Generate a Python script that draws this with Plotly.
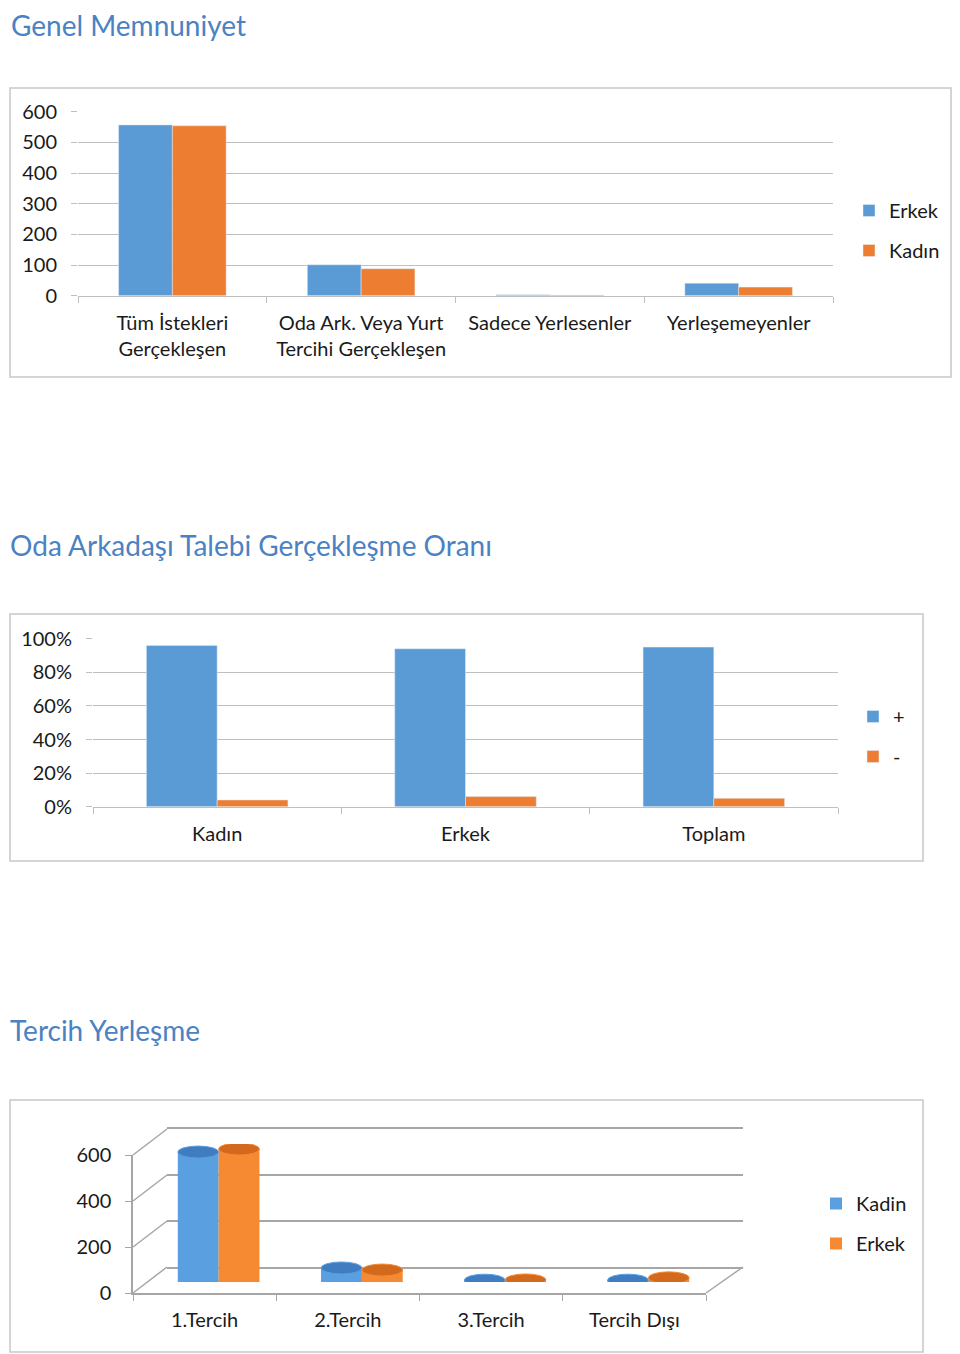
import plotly.graph_objects as go

# --- data ---
memnuniyet_cats = ["Tüm İstekleri<br>Gerçekleşen", "Oda Ark. Veya Yurt<br>Tercihi Gerçekleşen",
                   "Sadece Yerlesenler", "Yerleşemeyenler"]
memnuniyet_erkek = [557, 101, 3, 41]
memnuniyet_kadin = [554, 88, 2, 28]

oda_cats = ["Kadın", "Erkek", "Toplam"]
oda_arti = [0.96, 0.94, 0.95]
oda_eksi = [0.04, 0.06, 0.05]

tercih_cats = ["1.Tercih", "2.Tercih", "3.Tercih", "Tercih Dışı"]
tercih_kadin = [565, 61, 8, 8]
tercih_erkek = [578, 52, 9, 18]

BLUE = "#5B9BD5"
ORANGE = "#ED7D31"
GRID = "#BFBFBF"
WALL = "#A6A6A6"
FONT = "Lato"
# the page body has an 8px margin, so the canvas is shrunk and all positions shifted
OFF = 8
W, H = 960 - OFF, 1354 - OFF


def px(x):
    return (x - OFF) / W


def py(y):
    return 1 - (y - OFF) / H


def xd(a, b):
    return [px(a), px(b)]


def yd(top, bottom):
    return [py(bottom), py(top)]


fig = go.Figure()

# chart 1
fig.add_trace(go.Bar(x=memnuniyet_cats, y=memnuniyet_erkek, name="Erkek", marker_color=BLUE,
                     xaxis="x", yaxis="y", legend="legend", legendgroup="a1"))
fig.add_trace(go.Bar(x=memnuniyet_cats, y=memnuniyet_kadin, name="Kadın", marker_color=ORANGE,
                     xaxis="x", yaxis="y", legend="legend", legendgroup="a2"))

# chart 2
fig.add_trace(go.Bar(x=oda_cats, y=oda_arti, name="+", marker_color=BLUE,
                     xaxis="x2", yaxis="y2", legend="legend2", legendgroup="b1"))
fig.add_trace(go.Bar(x=oda_cats, y=oda_eksi, name="-", marker_color=ORANGE,
                     xaxis="x2", yaxis="y2", legend="legend2", legendgroup="b2"))

# chart 3: back wall (x3), front axes (x4), cylinders (x5)
fig.add_trace(go.Scatter(x=tercih_cats, y=[None] * 4, xaxis="x3", yaxis="y3",
                         showlegend=False, hoverinfo="skip"))
fig.add_trace(go.Scatter(x=tercih_cats, y=[None] * 4, xaxis="x4", yaxis="y4",
                         showlegend=False, hoverinfo="skip"))
CYL_BLUE, CYL_BLUE_TOP = "#5A9FE0", "#3F7DC0"
CYL_ORANGE, CYL_ORANGE_TOP = "#F58A33", "#D2691C"
fig.add_trace(go.Bar(x=tercih_cats, y=tercih_kadin, name="Kadin", marker_color=CYL_BLUE,
                     marker_line_width=0, xaxis="x5", yaxis="y5",
                     legend="legend3", legendgroup="c1"))
fig.add_trace(go.Bar(x=tercih_cats, y=tercih_erkek, name="Erkek", marker_color=CYL_ORANGE,
                     marker_line_width=0, xaxis="x5", yaxis="y5",
                     legend="legend3", legendgroup="c2"))

BARGAP = 0.43
tickfont = dict(family=FONT, size=20, color="#1a1a1a")
cat_range = [-0.5, 3.5]
legend_style = dict(xanchor="left", yanchor="top", tracegroupgap=11,
                    font=dict(family=FONT, size=20, color="#1a1a1a"), bgcolor="rgba(0,0,0,0)")

fig.update_layout(
    width=W, height=H, margin=dict(l=0, r=0, t=0, b=0, autoexpand=False),
    paper_bgcolor="white", plot_bgcolor="rgba(0,0,0,0)",
    font=dict(family=FONT, size=20, color="#1a1a1a"),
    barmode="group", bargap=BARGAP, bargroupgap=0,
    showlegend=True,
    # chart 1
    xaxis=dict(domain=xd(78, 833), anchor="y", showline=True, linecolor=GRID, linewidth=1,
               ticks="outside", tickson="boundaries", ticklen=6, tickcolor=GRID,
               tickfont=tickfont, showgrid=False, ticklabelstandoff=9, automargin=False),
    yaxis=dict(domain=yd(111.7, 295.7), anchor="x", range=[0, 600], dtick=100,
               showgrid=True, gridcolor=GRID, gridwidth=1, ticks="outside", ticklen=6,
               tickcolor=GRID, tickfont=tickfont, ticklabelstandoff=10, zeroline=False,
               automargin=False),
    # chart 2
    xaxis2=dict(domain=xd(93, 838), anchor="y2", showline=True, linecolor=GRID,
                ticks="outside", tickson="boundaries", ticklen=6, tickcolor=GRID,
                tickfont=tickfont, showgrid=False, ticklabelstandoff=9, automargin=False),
    yaxis2=dict(domain=yd(638.7, 806.7), anchor="x2", range=[0, 1], dtick=0.2, tickformat=".0%",
                showgrid=True, gridcolor=GRID, ticks="outside", ticklen=6, tickcolor=GRID,
                tickfont=tickfont, ticklabelstandoff=10, zeroline=False, automargin=False),
    # chart 3 back wall (axis line + mirror give the floor edge and top line)
    xaxis3=dict(domain=xd(167, 743), anchor="y3", range=cat_range, showticklabels=False,
                showgrid=False, showline=True, mirror=True, linecolor=WALL, linewidth=2,
                ticks="", automargin=False),
    yaxis3=dict(domain=yd(1129, 1267), anchor="x3", range=[0, 600], dtick=200,
                showticklabels=False, showgrid=True, gridcolor=WALL, gridwidth=2,
                zeroline=False, ticks="", automargin=False),
    # chart 3 front axes
    xaxis4=dict(domain=xd(133, 706), anchor="y4", range=cat_range, showline=True,
                linecolor=WALL, linewidth=1.5, ticks="outside", tickson="boundaries",
                ticklen=6, tickcolor=WALL, tickfont=tickfont, showgrid=False,
                ticklabelstandoff=8, automargin=False),
    yaxis4=dict(domain=yd(1155, 1293), anchor="x4", range=[0, 600], dtick=200,
                showline=True, linecolor=WALL, linewidth=1.5, ticks="outside", ticklen=6,
                tickcolor=WALL, tickfont=tickfont, ticklabelstandoff=10,
                showgrid=False, zeroline=False, automargin=False),
    # chart 3 cylinders
    xaxis5=dict(domain=xd(147, 720), anchor="y5", range=cat_range, visible=False),
    yaxis5=dict(domain=yd(1144, 1282), anchor="x5", range=[0, 600], visible=False),
    legend=dict(x=px(849), y=py(191), **legend_style),
    legend2=dict(x=px(853), y=py(697), **legend_style),
    legend3=dict(x=px(816), y=py(1184), **legend_style),
)

# titles
title_font = dict(family=FONT, size=28, color="#4A82C3")
for text, tx, ty in [("Genel Memnuniyet", 10, 25),
                     ("Oda Arkadaşı Talebi Gerçekleşme Oranı", 9, 545),
                     ("Tercih Yerleşme", 9, 1030)]:
    fig.add_annotation(text=text, x=px(tx), y=py(ty), xref="paper", yref="paper",
                       xanchor="left", yanchor="middle", showarrow=False, font=title_font,
                       borderpad=0)

# chart frames (right edge of the first one kept inside the visible page)
for x0, y0, x1, y1 in [(10, 88, 951, 377), (10, 614, 923, 861), (10, 1100, 923, 1352)]:
    fig.add_shape(type="rect", xref="paper", yref="paper", x0=px(x0), x1=px(x1),
                  y0=py(y1), y1=py(y0), line=dict(color="#C8C8C8", width=1.5),
                  fillcolor="rgba(0,0,0,0)", layer="below")

# 3d frame: connect front axis ticks to back wall
front_top, front_bot = 1155, 1293
back_top, back_bot = 1129, 1267
for v in [0, 200, 400, 600]:
    yf = front_bot - (front_bot - front_top) * v / 600
    yb = back_bot - (back_bot - back_top) * v / 600
    fig.add_shape(type="line", xref="paper", yref="paper", x0=px(133), x1=px(167),
                  y0=py(yf), y1=py(yb), line=dict(color=WALL, width=1.5))
fig.add_shape(type="line", xref="paper", yref="paper", x0=px(706), x1=px(743),
              y0=py(front_bot), y1=py(back_bot), line=dict(color=WALL, width=1.5))

# cylinder ends: elliptical bottom and top caps on each bar
half = (1 - BARGAP) / 2
for values, side, body, top in [(tercih_kadin, -1, CYL_BLUE, CYL_BLUE_TOP),
                                (tercih_erkek, 1, CYL_ORANGE, CYL_ORANGE_TOP)]:
    for i, v in enumerate(values):
        c0 = i + (side - 1) * half / 2
        c1 = c0 + half
        fig.add_shape(type="circle", xref="x5", yref="y5", x0=c0, x1=c1,
                      ysizemode="pixel", yanchor=0, y0=-6, y1=6,
                      fillcolor=body, line=dict(width=0))
        fig.add_shape(type="circle", xref="x5", yref="y5", x0=c0, x1=c1,
                      ysizemode="pixel", yanchor=v, y0=-6, y1=6,
                      fillcolor=top, line=dict(color=body, width=1))

fig.write_html("out.html")
